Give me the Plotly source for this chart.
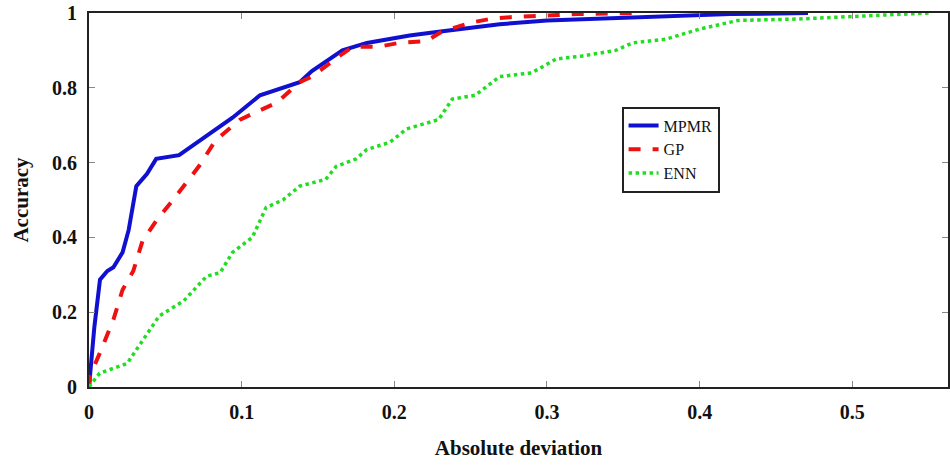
import plotly.graph_objects as go

# MPMR (blue solid)
mpmr_x = [0, 0.0035, 0.0072, 0.012, 0.016, 0.022, 0.026, 0.031, 0.038, 0.044, 0.059, 0.073, 0.094,
          0.112, 0.127, 0.138, 0.146, 0.166, 0.182, 0.21, 0.229, 0.269, 0.30, 0.367, 0.42, 0.471]
mpmr_y = [0, 0.16, 0.287, 0.31, 0.32, 0.36, 0.42, 0.537, 0.57, 0.61, 0.62, 0.66, 0.72,
          0.78, 0.80, 0.815, 0.845, 0.90, 0.92, 0.94, 0.95, 0.97, 0.98, 0.99, 0.997, 1.0]

# GP (red dashed)
gp_x = [0, 0.0007, 0.007, 0.016, 0.022, 0.029, 0.035, 0.045, 0.055, 0.072, 0.083, 0.099, 0.112,
        0.123, 0.138, 0.146, 0.164, 0.173, 0.19, 0.203, 0.221, 0.231, 0.251, 0.264, 0.28, 0.32, 0.36]
gp_y = [0, 0.03, 0.09, 0.18, 0.26, 0.31, 0.39, 0.45, 0.50, 0.59, 0.66, 0.715, 0.74,
        0.76, 0.815, 0.83, 0.885, 0.91, 0.91, 0.92, 0.925, 0.95, 0.975, 0.985, 0.99, 0.997, 1.0]

# ENN (green dotted)
enn_x = [0, 0.007, 0.025, 0.035, 0.046, 0.062, 0.077, 0.086, 0.094, 0.107, 0.116, 0.127, 0.138,
         0.155, 0.162, 0.175, 0.182, 0.197, 0.208, 0.229, 0.238, 0.253, 0.269, 0.29, 0.306,
         0.323, 0.345, 0.356, 0.378, 0.40, 0.425, 0.465, 0.497, 0.541, 0.55]
enn_y = [0, 0.037, 0.063, 0.125, 0.19, 0.23, 0.296, 0.306, 0.36, 0.40, 0.48, 0.50, 0.537,
         0.555, 0.59, 0.61, 0.635, 0.654, 0.69, 0.715, 0.77, 0.78, 0.83, 0.84, 0.877,
         0.885, 0.90, 0.92, 0.93, 0.957, 0.98, 0.984, 0.99, 1.0, 1.0]

x_ticks = [0, 0.1, 0.2, 0.3, 0.4, 0.5]
y_ticks = [0, 0.2, 0.4, 0.6, 0.8, 1]
x_labels = ["0", "0.1", "0.2", "0.3", "0.4", "0.5"]
y_labels = ["0", "0.2", "0.4", "0.6", "0.8", "1"]

SERIF = "Times New Roman, Liberation Serif, DejaVu Serif, serif"

fig = go.Figure()
fig.add_trace(go.Scatter(x=mpmr_x, y=mpmr_y, mode="lines", name="MPMR",
                         line=dict(color="#1010d0", width=4)))
fig.add_trace(go.Scatter(x=gp_x, y=gp_y, mode="lines", name="GP",
                         line=dict(color="#ee1111", width=4, dash="dash")))
fig.add_trace(go.Scatter(x=enn_x, y=enn_y, mode="lines", name="ENN",
                         line=dict(color="#22dd22", width=3.5, dash="dot")))

tickfont = dict(family=SERIF, size=20, color="#111")
fig.update_layout(
    width=950, height=465,
    margin=dict(l=89, r=0, t=13, b=78),
    paper_bgcolor="white", plot_bgcolor="white",
    font=dict(family=SERIF),
    legend=dict(x=0.62, y=0.75, xanchor="left", yanchor="top",
                bgcolor="white", bordercolor="#222", borderwidth=2,
                font=dict(family=SERIF, size=16, color="#111"),
                tracegroupgap=0, itemwidth=30),
    xaxis=dict(range=[0, 0.5627], tickvals=x_ticks, ticktext=[f"<b>{t}</b>" for t in x_labels],
               ticks="inside", ticklen=6, tickcolor="#888", tickwidth=1,
               showline=True, linecolor="#222", linewidth=2, mirror="ticks",
               showgrid=False, zeroline=False, tickfont=tickfont, ticklabelstandoff=6,
               title=dict(text="<b>Absolute deviation</b>", font=dict(family=SERIF, size=21, color="#111"),
                          standoff=18)),
    yaxis=dict(range=[0, 1], tickvals=y_ticks, ticktext=[f"<b>{t}</b>" for t in y_labels],
               ticks="inside", ticklen=6, tickcolor="#888", tickwidth=1,
               showline=True, linecolor="#222", linewidth=2, mirror="ticks",
               showgrid=False, zeroline=False, tickfont=tickfont, ticklabelstandoff=6,
               title=dict(text="<b>Accuracy</b>", font=dict(family=SERIF, size=21, color="#111"),
                          standoff=18)),
)

fig.write_html("out.html")
